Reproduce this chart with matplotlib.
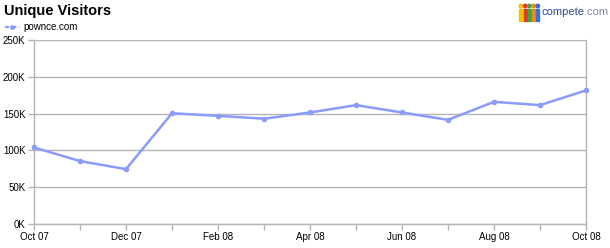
import numpy as np
import matplotlib.pyplot as plt
from matplotlib.patches import Ellipse, Rectangle

plt.rcParams['font.family'] = ['Liberation Sans', 'DejaVu Sans']

# Monthly unique visitors (thousands), Oct 07 .. Oct 08
months = ["Oct 07", "Nov 07", "Dec 07", "Jan 08", "Feb 08", "Mar 08", "Apr 08",
          "May 08", "Jun 08", "Jul 08", "Aug 08", "Sep 08", "Oct 08"]
visitors = [104, 85.5, 74.5, 150.5, 147, 143, 151.5, 161.5, 151.5, 141.5, 166, 161.5, 181.5]
yticks = [0, 50, 100, 150, 200, 250]
ytick_labels = ["0K", "50K", "100K", "150K", "200K", "250K"]

line_color = "#8a9bfa"
grid_color = "#b4b4b4"

fig = plt.figure(figsize=(6.1, 2.48), dpi=100)
ax = fig.add_axes([34/610, 24/248, (586-34)/610, (224-40)/248])

x = np.arange(len(months))
ax.plot(x, visitors, color=line_color, linewidth=1.8, marker="o", markersize=4,
        markeredgewidth=0, zorder=3, clip_on=False)

ax.set_xlim(0, len(months) - 1)
ax.set_ylim(0, 250)
ax.set_yticks(yticks)
ax.set_yticklabels(ytick_labels)
ax.set_xticks(x[::2])
ax.set_xticklabels(months[::2])
ax.set_xticks(x, minor=True)
ax.grid(axis="y", color=grid_color, linewidth=1)
ax.tick_params(axis="both", which="both", colors=grid_color, labelcolor="black",
               labelsize=7, length=4, width=1, pad=2)
ax.spines["top"].set_visible(False)
for side in ["left", "right", "bottom"]:
    ax.spines[side].set_color(grid_color)
    ax.spines[side].set_linewidth(1)

# title and legend
fig.text(4/610, 1 - 11/248, "Unique Visitors", fontsize=10.5, fontweight="bold",
         va="center", ha="left")
fig.add_artist(plt.Line2D([5/610, 20/610], [1 - 27/248, 1 - 27/248], color=line_color,
                          linewidth=1.5, linestyle=(0, (2, 1.5))))
fig.add_artist(plt.Line2D([12.5/610], [1 - 27/248], color=line_color, marker="o",
                          markersize=3.5, markeredgewidth=0))
fig.text(23/610, 1 - 27/248, "pownce.com", fontsize=7, va="center", ha="left")

# compete.com logo
people = ["#f2c200", "#e03a2a", "#3aa83a", "#f08a1a", "#3a6fd8"]
for i, c in enumerate(people):
    px = 521 + i * 4.2
    fig.add_artist(Ellipse((px/610, 1 - 6/248), 3.5/610, 3.5/248, color=c,
                           transform=fig.transFigure))
    fig.add_artist(Rectangle(((px - 1.7)/610, 1 - 21/248), 3.4/610, 12/248, color=c,
                             transform=fig.transFigure))
t1 = fig.text(541/610, 1 - 12/248, "compete", fontsize=8, color="#2c4a9a",
              va="center", ha="left")
fig.canvas.draw()
bb = t1.get_window_extent()
fig.text(bb.x1/610, 1 - 12/248, ".com", fontsize=8, color="#7a8ab0",
         va="center", ha="left")

fig.savefig("out.png", dpi=100)
